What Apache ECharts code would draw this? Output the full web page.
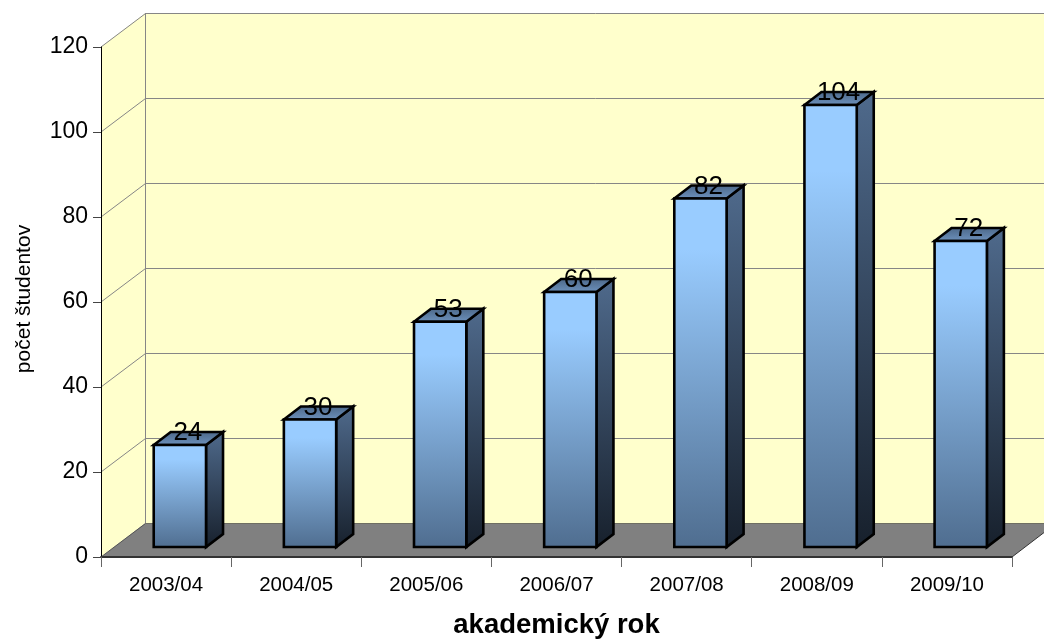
<!DOCTYPE html>
<html><head><meta charset="utf-8">
<style>html,body{margin:0;padding:0;background:#fff}#c{width:1044px;height:639px}</style>
<script src="https://cdn.jsdelivr.net/npm/echarts@6/dist/echarts.min.js"></script>
</head><body><div id="c"></div>
<script>
const categories = ['2003/04','2004/05','2005/06','2006/07','2007/08','2008/09','2009/10'];
const students = [24,30,53,60,82,104,72];
const gridTicks = [0,20,40,60,80,100,120];

const FONT = '"Liberation Sans", Arial, sans-serif';
const WALL_DX = 44.5, WALL_DY = -34;
const BAR_W = 52.3, BAR_DX = 17, BAR_DY = -13, BAR_SHIFT_X = 13.8, BAR_SHIFT_Y = -10;

function grad(stops){
  return {type:'linear',x:0,y:0,x2:0,y2:1,colorStops:stops.map(s=>({offset:s[0],color:s[1]}))};
}
const chart = echarts.init(document.getElementById('c'),null,{renderer:'canvas'});

function renderWalls(params, api){
  const g = params.coordSys;
  const L=g.x, R=g.x+g.width, T=g.y, B=g.y+g.height;
  const children=[
    {type:'polygon',shape:{points:[[L,T],[L+WALL_DX,T+WALL_DY],[R+WALL_DX,T+WALL_DY],[R+WALL_DX,B+WALL_DY],[L+WALL_DX,B+WALL_DY],[L,B]]},style:{fill:'#FFFFCC'},silent:true},
    {type:'polygon',shape:{points:[[L,B],[L+WALL_DX,B+WALL_DY],[R+WALL_DX,B+WALL_DY],[R,B]]},style:{fill:'#808080'},silent:true},
    {type:'line',shape:{x1:L+WALL_DX,y1:T+WALL_DY,x2:L+WALL_DX,y2:B+WALL_DY},style:{stroke:'#868686',lineWidth:1},silent:true}
  ];
  gridTicks.forEach(v=>{
    const y=api.coord([0,v])[1];
    const yb=Math.round(y+WALL_DY)+0.5;
    children.push({type:'line',shape:{x1:L,y1:y,x2:L+WALL_DX,y2:yb},style:{stroke:v===0?'#555':'#868686',lineWidth:1}});
    children.push({type:'line',shape:{x1:L+WALL_DX,y1:yb,x2:R+WALL_DX,y2:yb},style:{stroke:v===0?'#6e6e62':'#868686',lineWidth:1}});
  });
  children.push({type:'polyline',shape:{points:[[R,B],[R+WALL_DX,B+WALL_DY]]},style:{stroke:'#333',lineWidth:1,fill:null}});
  return {type:'group',children};
}

function renderBar(params, api){
  const i=api.value(0), v=api.value(1);
  const top=api.coord([i,v]), base=api.coord([i,0]);
  const x0=top[0]+BAR_SHIFT_X-BAR_W/2, x1=x0+BAR_W;
  const yt=top[1]+BAR_SHIFT_Y, yb=base[1]+BAR_SHIFT_Y;
  const border={stroke:'#000',lineWidth:2.6,lineJoin:'miter'};
  return {type:'group',children:[
    {type:'polygon',shape:{points:[[x1,yt],[x1+BAR_DX,yt+BAR_DY],[x1+BAR_DX,yb+BAR_DY],[x1,yb]]},
      style:Object.assign({fill:grad([[0,'#4f6a8c'],[1,'#17202c']])},border)},
    {type:'polygon',shape:{points:[[x0,yt],[x0+BAR_DX,yt+BAR_DY],[x1+BAR_DX,yt+BAR_DY],[x1,yt]]},
      style:Object.assign({fill:grad([[0,'#4a6585'],[1,'#6f94c0']])},border)},
    {type:'rect',shape:{x:x0,y:yt,width:BAR_W,height:yb-yt},
      style:Object.assign({fill:grad([[0,'#99CCFF'],[0.15,'#99CCFF'],[1,'#4f6d8f']])},border)},
    {type:'text',style:{text:String(v),x:x0+BAR_W/2+8,y:yt+1,align:'center',verticalAlign:'bottom',fill:'#000',font:'26px '+FONT}}
  ]};
}

chart.setOption({
  animation:false,
  backgroundColor:'#fff',
  grid:{left:101,right:32,top:47,bottom:82,containLabel:false,outerBoundsMode:'none'},
  xAxis:{type:'category',data:categories,boundaryGap:true,z:2,
    name:'akademický rok',nameLocation:'middle',nameGap:54,
    nameTextStyle:{fontFamily:FONT,fontSize:27.5,fontWeight:'bold',color:'#000'},
    axisLine:{show:true,lineStyle:{color:'#333',width:2}},
    axisTick:{show:true,length:10,lineStyle:{color:'#666',width:1}},
    axisLabel:{fontFamily:FONT,fontSize:20.5,color:'#000',margin:18},
    splitLine:{show:false}},
  yAxis:{type:'value',min:0,max:120,interval:20,z:2,
    name:'počet študentov',nameLocation:'middle',nameGap:66,
    nameTextStyle:{fontFamily:FONT,fontSize:21,color:'#000',padding:[0,0,0,6]},
    axisLine:{show:true,lineStyle:{color:'#000',width:1}},
    axisTick:{show:true,length:8,lineStyle:{color:'#444',width:1}},
    axisLabel:{fontFamily:FONT,fontSize:23,color:'#000',margin:13,padding:[2,0,0,0]},
    splitLine:{show:false}},
  series:[
    {type:'custom',z:1,clip:false,silent:true,coordinateSystem:'cartesian2d',data:[[0,0]],renderItem:renderWalls},
    {type:'custom',z:3,clip:false,silent:true,coordinateSystem:'cartesian2d',
      encode:{x:0,y:1},data:students.map((v,i)=>[i,v]),renderItem:renderBar}
  ]
});
</script></body></html>
